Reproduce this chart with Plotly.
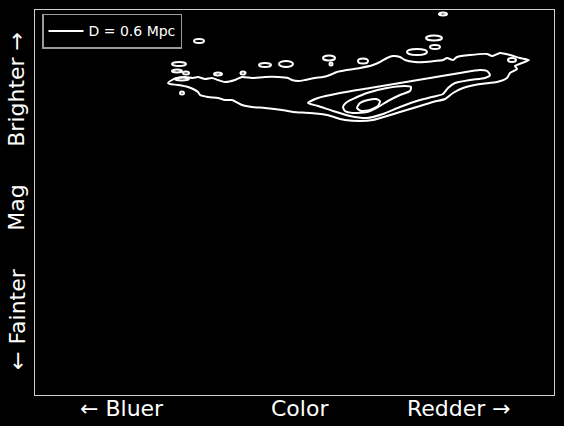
import plotly.graph_objects as go

# ---- contour levels (color, magnitude) ----
outer_color = [1.33, 1.37, 1.42, 1.50, 1.58, 1.63, 1.70, 1.77, 1.83, 1.90, 2.00, 2.07, 2.17, 2.30, 2.43,
               2.53, 2.57, 2.63, 2.70, 2.80, 2.88, 2.95, 3.02, 3.12, 3.25, 3.38, 3.45, 3.52, 3.58, 3.65,
               3.70, 3.80, 3.90, 4.00, 4.08, 4.12, 4.18, 4.22, 4.35, 4.52, 4.57, 4.65, 4.75, 4.85, 4.94,
               4.87, 4.80, 4.82, 4.75, 4.72, 4.62, 4.45, 4.28, 4.18, 4.10, 3.98, 3.85, 3.65, 3.52, 3.38,
               3.25, 3.10, 3.05, 2.92, 2.75, 2.58, 2.47, 2.30, 2.17, 2.07, 1.97, 1.90, 1.83, 1.73, 1.65,
               1.63, 1.60, 1.53, 1.43, 1.35, 1.33]
outer_mag = [0.73, 0.70, 0.68, 0.67, 0.68, 0.67, 0.69, 0.68, 0.70, 0.72, 0.70, 0.67, 0.68, 0.67, 0.67,
             0.68, 0.70, 0.71, 0.70, 0.68, 0.67, 0.65, 0.62, 0.60, 0.58, 0.55, 0.52, 0.48, 0.46, 0.47,
             0.50, 0.52, 0.52, 0.51, 0.50, 0.48, 0.50, 0.47, 0.45, 0.44, 0.46, 0.43, 0.45, 0.48, 0.50,
             0.53, 0.56, 0.59, 0.63, 0.68, 0.72, 0.74, 0.78, 0.83, 0.89, 0.92, 0.96, 1.02, 1.06, 1.10,
             1.11, 1.10, 1.09, 1.05, 1.03, 1.02, 1.00, 0.98, 0.97, 0.95, 0.90, 0.90, 0.88, 0.87, 0.85,
             0.82, 0.80, 0.77, 0.75, 0.74, 0.73]

level2_color = [2.73, 2.83, 3.05, 3.35, 3.65, 3.95, 4.25, 4.45, 4.52, 4.55, 4.50, 4.35, 4.20, 4.13,
                4.08, 3.97, 3.85, 3.65, 3.48, 3.32, 3.15, 2.98, 2.83, 2.73]
level2_mag = [0.93, 0.88, 0.83, 0.78, 0.73, 0.68, 0.63, 0.60, 0.61, 0.65, 0.68, 0.70, 0.73, 0.78,
              0.84, 0.87, 0.90, 0.97, 1.04, 1.08, 1.06, 1.01, 0.96, 0.93]

level3_color = [3.08, 3.12, 3.20, 3.32, 3.52, 3.70, 3.76, 3.75, 3.65, 3.53, 3.43, 3.32, 3.18, 3.10, 3.08]
level3_mag = [0.97, 0.92, 0.88, 0.83, 0.78, 0.76, 0.77, 0.81, 0.85, 0.91, 0.97, 1.02, 1.03, 1.01, 0.97]

level4_color = [3.22, 3.25, 3.33, 3.41, 3.45, 3.43, 3.35, 3.26, 3.22]
level4_mag = [0.98, 0.93, 0.90, 0.89, 0.91, 0.96, 1.00, 1.01, 0.98]

# small isolated outer-level islands: centre and half extents
island_color = [4.08, 3.99, 4.00, 3.82, 2.94, 2.96, 3.28, 2.30, 2.51, 1.64, 1.44, 1.42, 1.51, 1.47, 1.83, 2.08, 4.77, 1.47]
island_mag = [0.04, 0.28, 0.37, 0.42, 0.48, 0.54, 0.51, 0.55, 0.54, 0.31, 0.54, 0.61, 0.63, 0.83, 0.64, 0.63, 0.50, 0.69]
island_dcolor = [0.04, 0.08, 0.05, 0.10, 0.06, 0.015, 0.05, 0.06, 0.07, 0.05, 0.07, 0.05, 0.03, 0.02, 0.04, 0.025, 0.04, 0.07]
island_dmag = [0.015, 0.025, 0.02, 0.03, 0.025, 0.015, 0.025, 0.02, 0.03, 0.02, 0.02, 0.015, 0.015, 0.015, 0.015, 0.015, 0.02, 0.015]

legend_name = "D = 0.6 Mpc"
x_labels = ["\u2190 Bluer", "Color", "Redder \u2192"]
x_label_pos = [0.168, 0.511, 0.817]
y_labels = ["\u2190 Fainter", "Mag", "Brighter \u2192"]
y_label_pos = [0.197, 0.486, 0.795]

FONT = "DejaVu Sans"
LINE = dict(color="white", width=2)

fig = go.Figure()
levels = [(outer_color, outer_mag), (level2_color, level2_mag),
          (level3_color, level3_mag), (level4_color, level4_mag)]
for i, (cx, cy) in enumerate(levels):
    fig.add_trace(go.Scatter(
        x=cx, y=cy, mode="lines", line=dict(color="white", width=2, shape="spline", smoothing=0.6),
        name=legend_name, showlegend=(i == 0), hoverinfo="skip"))

for c, m, dc, dm in zip(island_color, island_mag, island_dcolor, island_dmag):
    fig.add_shape(type="circle", xref="x", yref="y",
                  x0=c - dc, x1=c + dc, y0=m - dm, y1=m + dm,
                  line=LINE, fillcolor="rgba(0,0,0,0)")

for txt, px in zip(x_labels, x_label_pos):
    fig.add_annotation(text=txt, xref="paper", yref="paper", x=px, y=-0.036,
                       xanchor="center", yanchor="middle", showarrow=False,
                       font=dict(family=FONT, size=22, color="white"))
for txt, py in zip(y_labels, y_label_pos):
    fig.add_annotation(text=txt, xref="paper", yref="paper", x=-0.035, y=py,
                       xanchor="center", yanchor="middle", showarrow=False, textangle=-90,
                       font=dict(family=FONT, size=22, color="white"))

fig.update_layout(
    width=564, height=426,
    margin=dict(l=35, r=10, t=10, b=31),
    paper_bgcolor="black", plot_bgcolor="black",
    font=dict(family=FONT, color="white"),
    showlegend=True,
    legend=dict(x=0.0135, y=0.99, xanchor="left", yanchor="top",
                bgcolor="black", bordercolor="#9a9a9a", borderwidth=1.5,
                font=dict(family=FONT, size=14, color="white"),
                itemwidth=35, tracegroupgap=0),
    xaxis=dict(range=[0, 5.19], showgrid=False, zeroline=False, showticklabels=False,
               ticks="", showline=True, mirror=True, linecolor="#d0d0d0", linewidth=1),
    yaxis=dict(range=[3.85, 0], showgrid=False, zeroline=False, showticklabels=False,
               ticks="", showline=True, mirror=True, linecolor="#d0d0d0", linewidth=1),
)

fig.write_html("out.html", config={"displayModeBar": False},
               post_script="document.body.style.margin='0';document.body.style.background='black';")
